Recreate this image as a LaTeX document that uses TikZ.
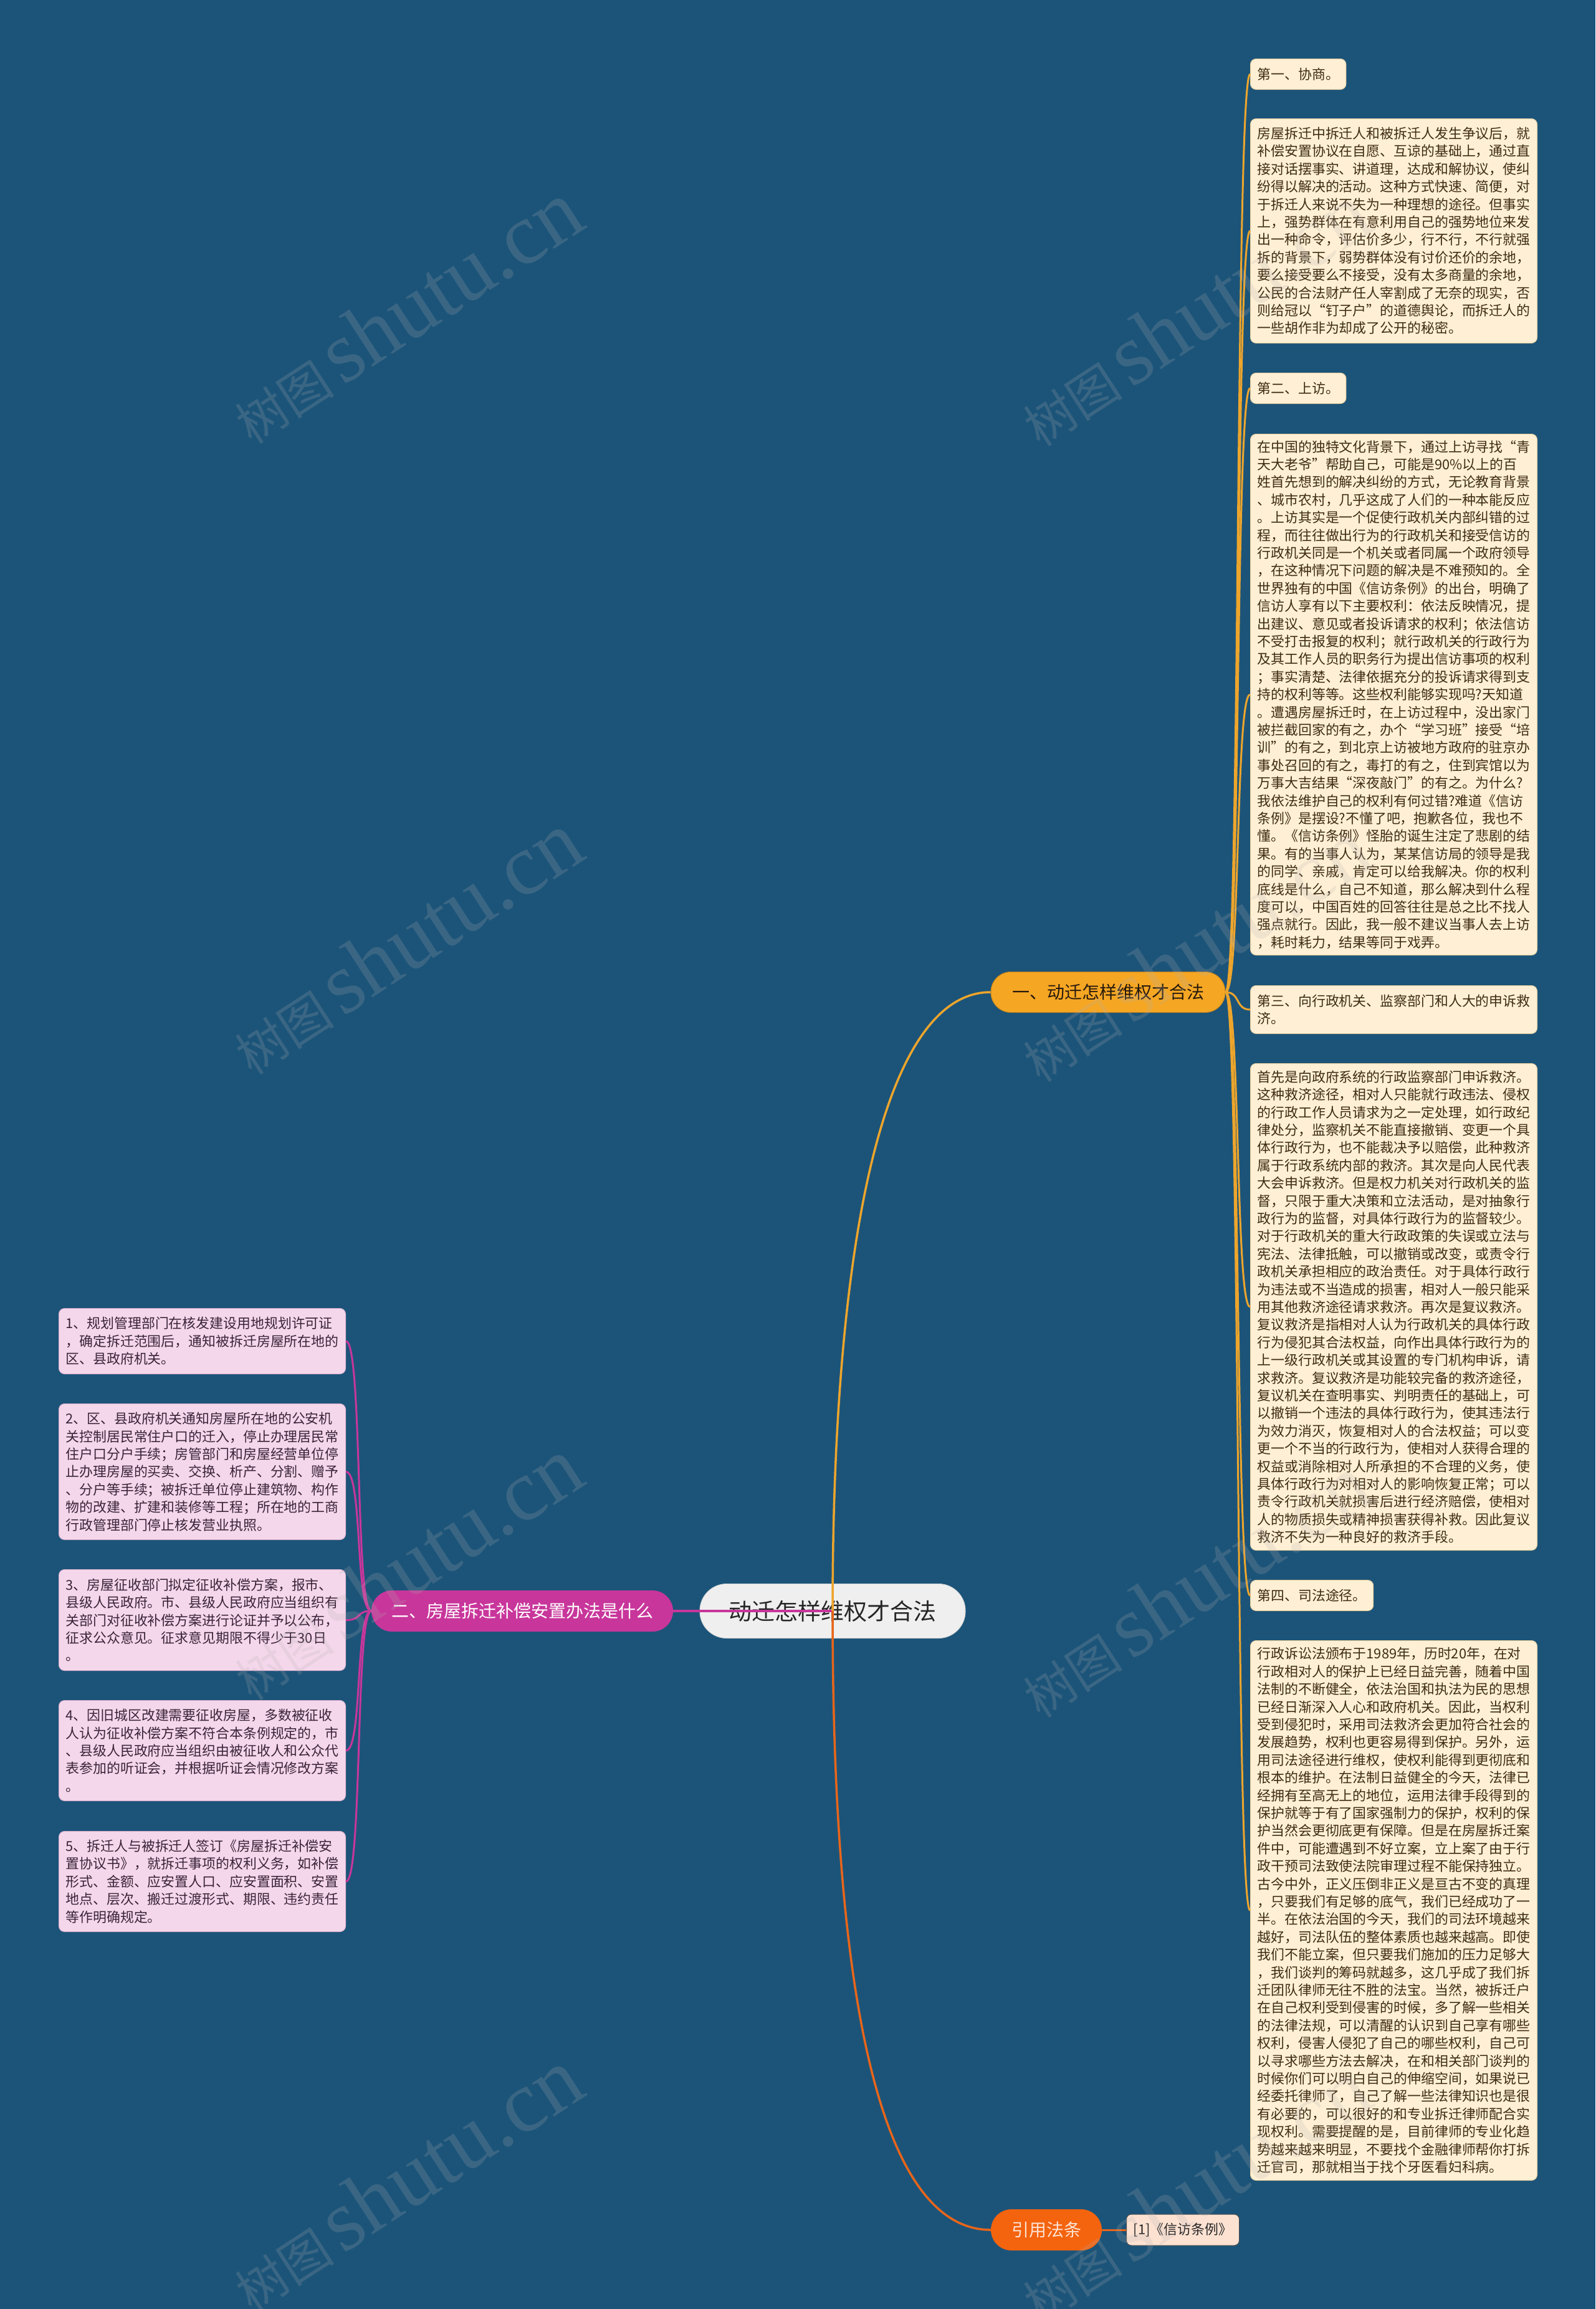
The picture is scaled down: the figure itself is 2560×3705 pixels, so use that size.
\documentclass[tikz,border=0pt]{standalone}
\usepackage{fontspec}
\setmainfont{Noto Sans CJK SC}
\newfontfamily\wmserif{Liberation Serif}
\definecolor{bgc}{HTML}{1C5479}
\definecolor{rfill}{HTML}{FFF0D5}
\definecolor{rline}{HTML}{E9CFA0}
\definecolor{rtext}{HTML}{3E2C14}
\definecolor{lfill}{HTML}{F5D7EB}
\definecolor{lline}{HTML}{DDB3CF}
\definecolor{ltext}{HTML}{3A2438}
\definecolor{orangeA}{HTML}{F5A623}
\definecolor{orangeE}{HTML}{EDA52C}
\definecolor{magA}{HTML}{C8369B}
\definecolor{redA}{HTML}{F4630E}
\definecolor{redE}{HTML}{E8651A}
\definecolor{citefill}{HTML}{FDE2D2}
\definecolor{rootfill}{HTML}{EFEFEF}
\newcommand\myBody{\fontsize{21.9}{28.4}\selectfont}
\newcommand\myBig{\fontsize{28}{32}\selectfont}
\newcommand\myRoot{\fontsize{37}{42}\selectfont}
\tikzset{
  rbox/.style={draw=rline, line width=1pt, fill=rfill, rounded corners=9pt, text=rtext,
    align=left, inner xsep=11pt, inner ysep=6pt, anchor=north west, font=\myBody},
  rbody/.style={rbox, text width=438pt},
  lbox/.style={draw=lline, line width=1pt, fill=lfill, rounded corners=9pt, text=ltext,
    align=left, inner xsep=11pt, inner ysep=6pt, anchor=north west, font=\myBody, text width=438pt},
  pill/.style={rounded corners=30pt, inner sep=0pt, align=center},
  redge/.style={draw=orangeE, line width=3pt},
  ledge/.style={draw=magA, line width=3pt},
  wm/.style={rotate=33, text=gray!60, opacity=0.2, inner sep=0pt}
}
\begin{document}
\begin{tikzpicture}[x=1pt,y=-1pt]
\useasboundingbox (0,0) rectangle (2560,3705);
\fill[bgc] (0,0) rectangle (2560,3705);

% ---------- main nodes ----------
\node[pill, fill=rootfill, draw=white!85!black, line width=1pt, text=black!85, font=\myRoot,
  minimum width=426pt, minimum height=87pt, rounded corners=43pt] (root) at (1336,2585) {动迁怎样维权才合法};
\node[pill, fill=orangeA, draw=orangeA!80!black, line width=1pt, text=black!80!brown, font=\myBig,
  minimum width=376pt, minimum height=65pt, rounded corners=32pt] (b1) at (1778,1592) {一、动迁怎样维权才合法};
\node[pill, fill=magA, text=white, font=\myBig,
  minimum width=484pt, minimum height=66pt, rounded corners=33pt] (b2) at (838,2585) {二、房屋拆迁补偿安置办法是什么};
\node[pill, fill=redA, text=citefill, font=\myBig,
  minimum width=178pt, minimum height=66pt, rounded corners=33pt] (ref) at (1679,3578) {引用法条};
\node[draw=black!70, line width=1pt, fill=citefill, rounded corners=8pt, text=black!85, font=\myBody,
  minimum width=181pt, minimum height=50pt, inner sep=0pt] (cite) at (1898,3578) {[1]《信访条例》};

% ---------- right children ----------
\node[rbox, minimum height=49pt] (h1) at (2006,94) {第一、协商。};
\node[rbody, minimum height=360pt] (t1) at (2006,190) {房屋拆迁中拆迁人和被拆迁人发生争议后，就\\
补偿安置协议在自愿、互谅的基础上，通过直\\
接对话摆事实、讲道理，达成和解协议，使纠\\
纷得以解决的活动。这种方式快速、简便，对\\
于拆迁人来说不失为一种理想的途径。但事实\\
上，强势群体在有意利用自己的强势地位来发\\
出一种命令，评估价多少，行不行，不行就强\\
拆的背景下，弱势群体没有讨价还价的余地，\\
要么接受要么不接受，没有太多商量的余地，\\
公民的合法财产任人宰割成了无奈的现实，否\\
则给冠以“钉子户”的道德舆论，而拆迁人的\\
一些胡作非为却成了公开的秘密。};
\node[rbox, minimum height=49pt] (h2) at (2006,598) {第二、上访。};
\node[rbody, minimum height=836pt] (t2) at (2006,696) {在中国的独特文化背景下，通过上访寻找“青\\
天大老爷”帮助自己，可能是90\%以上的百\\
姓首先想到的解决纠纷的方式，无论教育背景\\
、城市农村，几乎这成了人们的一种本能反应\\
。上访其实是一个促使行政机关内部纠错的过\\
程，而往往做出行为的行政机关和接受信访的\\
行政机关同是一个机关或者同属一个政府领导\\
，在这种情况下问题的解决是不难预知的。全\\
世界独有的中国《信访条例》的出台，明确了\\
信访人享有以下主要权利：依法反映情况，提\\
出建议、意见或者投诉请求的权利；依法信访\\
不受打击报复的权利；就行政机关的行政行为\\
及其工作人员的职务行为提出信访事项的权利\\
；事实清楚、法律依据充分的投诉请求得到支\\
持的权利等等。这些权利能够实现吗?天知道\\
。遭遇房屋拆迁时，在上访过程中，没出家门\\
被拦截回家的有之，办个“学习班”接受“培\\
训”的有之，到北京上访被地方政府的驻京办\\
事处召回的有之，毒打的有之，住到宾馆以为\\
万事大吉结果“深夜敲门”的有之。为什么?\\
我依法维护自己的权利有何过错?难道《信访\\
条例》是摆设?不懂了吧，抱歉各位，我也不\\
懂。《信访条例》怪胎的诞生注定了悲剧的结\\
果。有的当事人认为，某某信访局的领导是我\\
的同学、亲戚，肯定可以给我解决。你的权利\\
底线是什么，自己不知道，那么解决到什么程\\
度可以，中国百姓的回答往往是总之比不找人\\
强点就行。因此，我一般不建议当事人去上访\\
，耗时耗力，结果等同于戏弄。};
\node[rbody, minimum height=77pt] (h3) at (2006,1581) {第三、向行政机关、监察部门和人大的申诉救\\济。};
\node[rbody, minimum height=781pt] (t3) at (2006,1706) {首先是向政府系统的行政监察部门申诉救济。\\
这种救济途径，相对人只能就行政违法、侵权\\
的行政工作人员请求为之一定处理，如行政纪\\
律处分，监察机关不能直接撤销、变更一个具\\
体行政行为，也不能裁决予以赔偿，此种救济\\
属于行政系统内部的救济。其次是向人民代表\\
大会申诉救济。但是权力机关对行政机关的监\\
督，只限于重大决策和立法活动，是对抽象行\\
政行为的监督，对具体行政行为的监督较少。\\
对于行政机关的重大行政政策的失误或立法与\\
宪法、法律抵触，可以撤销或改变，或责令行\\
政机关承担相应的政治责任。对于具体行政行\\
为违法或不当造成的损害，相对人一般只能采\\
用其他救济途径请求救济。再次是复议救济。\\
复议救济是指相对人认为行政机关的具体行政\\
行为侵犯其合法权益，向作出具体行政行为的\\
上一级行政机关或其设置的专门机构申诉，请\\
求救济。复议救济是功能较完备的救济途径，\\
复议机关在查明事实、判明责任的基础上，可\\
以撤销一个违法的具体行政行为，使其违法行\\
为效力消灭，恢复相对人的合法权益；可以变\\
更一个不当的行政行为，使相对人获得合理的\\
权益或消除相对人所承担的不合理的义务，使\\
具体行政行为对相对人的影响恢复正常；可以\\
责令行政机关就损害后进行经济赔偿，使相对\\
人的物质损失或精神损害获得补救。因此复议\\
救济不失为一种良好的救济手段。};
\node[rbox, minimum height=49pt] (h4) at (2006,2535) {第四、司法途径。};
\node[rbody, minimum height=866pt] (t4) at (2006,2632) {行政诉讼法颁布于1989年，历时20年，在对\\
行政相对人的保护上已经日益完善，随着中国\\
法制的不断健全，依法治国和执法为民的思想\\
已经日渐深入人心和政府机关。因此，当权利\\
受到侵犯时，采用司法救济会更加符合社会的\\
发展趋势，权利也更容易得到保护。另外，运\\
用司法途径进行维权，使权利能得到更彻底和\\
根本的维护。在法制日益健全的今天，法律已\\
经拥有至高无上的地位，运用法律手段得到的\\
保护就等于有了国家强制力的保护，权利的保\\
护当然会更彻底更有保障。但是在房屋拆迁案\\
件中，可能遭遇到不好立案，立上案了由于行\\
政干预司法致使法院审理过程不能保持独立。\\
古今中外，正义压倒非正义是亘古不变的真理\\
，只要我们有足够的底气，我们已经成功了一\\
半。在依法治国的今天，我们的司法环境越来\\
越好，司法队伍的整体素质也越来越高。即使\\
我们不能立案，但只要我们施加的压力足够大\\
，我们谈判的筹码就越多，这几乎成了我们拆\\
迁团队律师无往不胜的法宝。当然，被拆迁户\\
在自己权利受到侵害的时候，多了解一些相关\\
的法律法规，可以清醒的认识到自己享有哪些\\
权利，侵害人侵犯了自己的哪些权利，自己可\\
以寻求哪些方法去解决，在和相关部门谈判的\\
时候你们可以明白自己的伸缩空间，如果说已\\
经委托律师了，自己了解一些法律知识也是很\\
有必要的，可以很好的和专业拆迁律师配合实\\
现权利。需要提醒的是，目前律师的专业化趋\\
势越来越来明显，不要找个金融律师帮你打拆\\
迁官司，那就相当于找个牙医看妇科病。};

% ---------- left children ----------
\node[lbox, minimum height=105pt] (l1) at (94,2099) {1、规划管理部门在核发建设用地规划许可证\\
，确定拆迁范围后，通知被拆迁房屋所在地的\\
区、县政府机关。};
\node[lbox, minimum height=218pt] (l2) at (94,2252) {2、区、县政府机关通知房屋所在地的公安机\\
关控制居民常住户口的迁入，停止办理居民常\\
住户口分户手续；房管部门和房屋经营单位停\\
止办理房屋的买卖、交换、析产、分割、赠予\\
、分户等手续；被拆迁单位停止建筑物、构作\\
物的改建、扩建和装修等工程；所在地的工商\\
行政管理部门停止核发营业执照。};
\node[lbox, minimum height=162pt] (l3) at (94,2518) {3、房屋征收部门拟定征收补偿方案，报市、\\
县级人民政府。市、县级人民政府应当组织有\\
关部门对征收补偿方案进行论证并予以公布，\\
征求公众意见。征求意见期限不得少于30日\\
。};
\node[lbox, minimum height=161pt] (l4) at (94,2728) {4、因旧城区改建需要征收房屋，多数被征收\\
人认为征收补偿方案不符合本条例规定的，市\\
、县级人民政府应当组织由被征收人和公众代\\
表参加的听证会，并根据听证会情况修改方案\\
。};
\node[lbox, minimum height=161pt] (l5) at (94,2938) {5、拆迁人与被拆迁人签订《房屋拆迁补偿安\\
置协议书》，就拆迁事项的权利义务，如补偿\\
形式、金额、应安置人口、应安置面积、安置\\
地点、层次、搬迁过渡形式、期限、违约责任\\
等作明确规定。};

% ---------- connectors ----------
\foreach \c in {h1,t1,h2,t2,h3,t3,h4,t4}
  \draw[redge] (b1.east) .. controls +(24,0) and +(-24,0) .. (\c.west);
\foreach \c in {l1,l2,l3,l4,l5}
  \draw[ledge] (b2.west) .. controls +(-26,0) and +(27,0) .. (\c.east);
\draw[draw=redE, line width=3pt] (ref.east) -- (cite.west);
\draw[draw=magA, line width=4pt] (root.center) -- (b2.east);
\draw[draw=orangeE, line width=3.5pt] (root.center) .. controls +(0,-600) and +(-170,0) .. (b1.west);
\draw[draw=redE, line width=3.5pt] (root.center) .. controls +(0,650) and +(-170,0) .. (ref.west);

% ---------- watermarks ----------
\foreach \x/\y [count=\i] in {650/501, 1915/505, 650/1513, 1915/1525, 650/2517, 1915/2545, 650/3498, 1915/3515}
  \node[wm, name=wm\i] at (\x,\y) {\fontsize{80}{85}\selectfont 树图\,\wmserif\fontsize{140}{140}\selectfont shutu.cn};
\end{tikzpicture}
\end{document}
